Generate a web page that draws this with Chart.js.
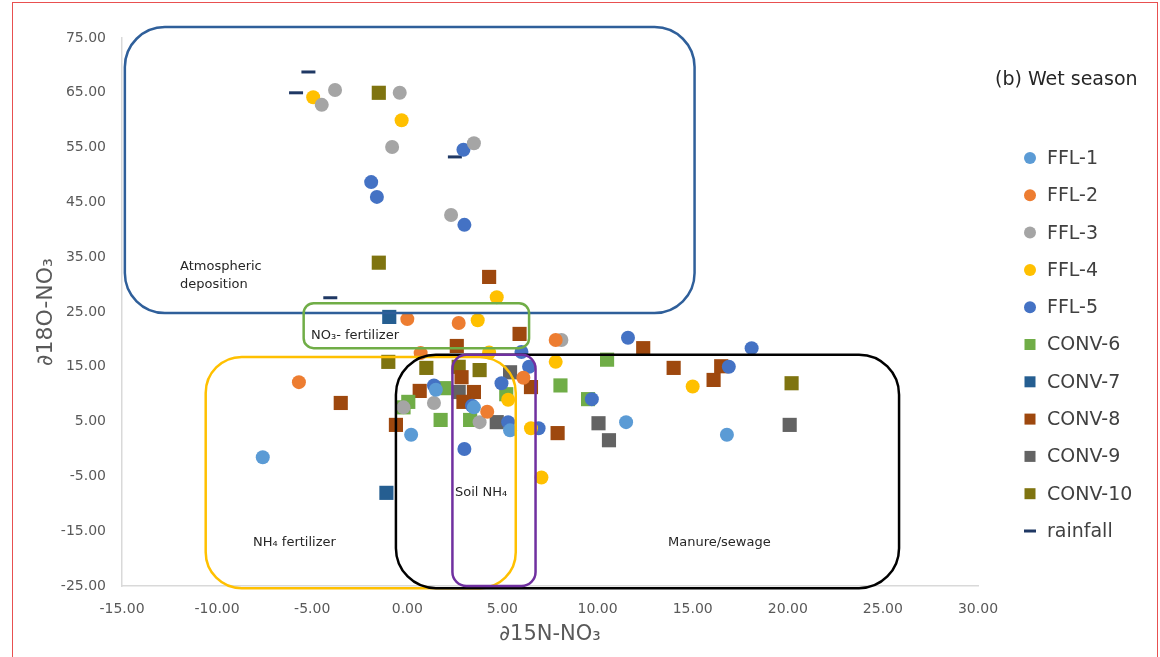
<!DOCTYPE html>
<html>
<head>
<meta charset="utf-8">
<script src="https://cdn.jsdelivr.net/npm/chart.js@4.4.1/dist/chart.umd.min.js"></script>
<style>
  html, body { margin: 0; padding: 0; background: #fff; }
  #wrap { position: relative; width: 1160px; height: 657px; overflow: hidden; }
  #frame { position: absolute; left: 12px; top: 2px; width: 1144px; height: 700px; border: 1px solid #e85050; border-bottom: none; }
  canvas { position: absolute; left: 0; top: 0; }
</style>
</head>
<body>
<div id="wrap">
  <div id="frame"></div>
  <canvas id="chart" width="1160" height="657"></canvas>
</div>
<script>
// d15N (x) / d18O (y) pairs per site
const ffl1 = [[-7.6, -1.5], [0.2, 2.6], [11.5, 4.9], [16.8, 2.6], [3.5, 7.6], [5.4, 3.4], [1.5, 10.8]];
const ffl2 = [[-5.7, 12.2], [0.0, 23.7], [2.7, 23.0], [7.8, 19.9], [4.2, 6.8], [6.1, 13.0], [0.7, 17.5]];
const ffl3 = [[-4.5, 62.8], [-3.8, 65.5], [-0.4, 65.0], [-0.8, 55.1], [3.5, 55.8], [2.3, 42.7],
              [8.1, 19.9], [1.4, 8.4], [-0.2, 7.6], [3.8, 4.9]];
const ffl4 = [[-4.95, 64.2], [-0.3, 60.0], [4.7, 27.7], [3.7, 23.5], [7.8, 15.9], [15.0, 11.4],
              [7.05, -5.2], [6.5, 3.8], [5.3, 9.0], [4.3, 17.6]];
const ffl5 = [[-1.9, 48.7], [-1.6, 46.0], [2.95, 54.6], [3.0, 40.9], [6.0, 17.7], [11.6, 20.3],
              [18.1, 18.4], [16.9, 15.0], [9.7, 9.1], [1.4, 11.6], [3.0, 0.0], [4.95, 12.0],
              [6.4, 15.0], [3.4, 7.9], [5.3, 4.9], [6.9, 3.8]];
const conv6 = [[0.05, 8.6], [1.95, 11.1], [1.75, 5.3], [3.3, 5.3], [5.2, 10.0], [8.05, 11.6],
               [9.5, 9.1], [10.5, 16.3], [-0.2, 7.6]];
const conv7 = [[-0.95, 24.1], [-1.1, -8.0]];
const conv8 = [[-3.5, 8.4], [-0.6, 4.4], [4.3, 31.4], [5.9, 21.0], [2.6, 18.8], [12.4, 18.4],
               [14.0, 14.8], [16.1, 12.6], [16.5, 15.1], [7.9, 2.9], [0.65, 10.6], [2.85, 13.1],
               [3.5, 10.4], [2.95, 8.6], [6.5, 11.3]];
const conv9 = [[2.7, 10.4], [5.4, 14.0], [4.7, 4.9], [10.05, 4.7], [10.6, 1.6], [20.1, 4.4]];
const conv10 = [[-1.5, 65.0], [-1.5, 34.0], [-1.0, 15.9], [1.0, 14.8], [2.7, 15.0], [3.8, 14.4], [20.2, 12.0]];
const rainfall = [[-5.2, 68.8], [-5.85, 65.0], [2.5, 53.3], [-4.05, 27.6]];

const xTicks = [-15, -10, -5, 0, 5, 10, 15, 20, 25, 30];
const yTicks = [-25, -15, -5, 5, 15, 25, 35, 45, 55, 65, 75];

// source boxes: [x1, x2, y1, y2, radius px, colour]
const boxes = [
  [-14.85, 15.1, 77.0, 24.8, 40, '#2f5f9a'],
  [-5.45, 6.4, 26.6, 18.4, 10, '#70ad47'],
  [-10.6, 5.7, 16.8, -25.4, 36, '#ffc000'],
  [-0.6, 25.85, 17.2, -25.4, 40, '#000000'],
  [2.37, 6.74, 17.2, -25.0, 14, '#7030a0']
];
const boxLabels = [
  ['Atmospheric', 180, 267], ['deposition', 180, 285],
  ['NO\u2083- fertilizer', 311, 336],
  ['NH\u2084 fertilizer', 253, 543],
  ['Soil NH\u2084', 455, 493],
  ['Manure/sewage', 668, 543]
];

const series = [
  ['FFL-1', ffl1, '#5b9bd5', 'circle'],
  ['FFL-2', ffl2, '#ed7d31', 'circle'],
  ['FFL-3', ffl3, '#a5a5a5', 'circle'],
  ['FFL-4', ffl4, '#ffc000', 'circle'],
  ['FFL-5', ffl5, '#4472c4', 'circle'],
  ['CONV-6', conv6, '#70ad47', 'rect'],
  ['CONV-7', conv7, '#255e91', 'rect'],
  ['CONV-8', conv8, '#9e480e', 'rect'],
  ['CONV-9', conv9, '#636363', 'rect'],
  ['CONV-10', conv10, '#7f7410', 'rect'],
  ['rainfall', rainfall, '#1f3864', 'line']
];

const datasets = series.map(([name, pts, col, shape]) => ({
  label: name,
  data: pts.map(p => ({ x: p[0], y: p[1] })),
  backgroundColor: col,
  borderColor: col,
  pointStyle: shape,
  pointRadius: shape === 'rect' ? 10 : 7,
  pointHoverRadius: shape === 'rect' ? 10 : 7,
  borderWidth: shape === 'line' ? 3 : 0
}));

function roundRect(ctx, x, y, w, h, r) {
  ctx.beginPath();
  ctx.moveTo(x + r, y);
  ctx.arcTo(x + w, y, x + w, y + h, r);
  ctx.arcTo(x + w, y + h, x, y + h, r);
  ctx.arcTo(x, y + h, x, y, r);
  ctx.arcTo(x, y, x + w, y, r);
  ctx.closePath();
}

const extras = {
  id: 'extras',
  afterDatasetsDraw(chart) {
    const ctx = chart.ctx, xs = chart.scales.x, ys = chart.scales.y;
    ctx.save();
    boxes.forEach(b => {
      const x1 = xs.getPixelForValue(b[0]), x2 = xs.getPixelForValue(b[1]);
      const y1 = ys.getPixelForValue(b[2]), y2 = ys.getPixelForValue(b[3]);
      ctx.strokeStyle = b[5];
      ctx.lineWidth = 2.5;
      roundRect(ctx, x1, y1, x2 - x1, y2 - y1, b[4]);
      ctx.stroke();
    });
    ctx.fillStyle = '#262626';
    ctx.font = '13px "DejaVu Sans"';
    ctx.textBaseline = 'middle';
    ctx.textAlign = 'left';
    boxLabels.forEach(l => ctx.fillText(l[0], l[1], l[2]));

    // title
    ctx.font = '19px "DejaVu Sans"';
    ctx.fillStyle = '#262626';
    ctx.fillText('(b) Wet season', 995, 80);

    // legend
    chart.data.datasets.forEach((ds, i) => {
      const y = 158 + i * 37.3;
      ctx.fillStyle = ds.backgroundColor;
      if (ds.pointStyle === 'circle') {
        ctx.beginPath(); ctx.arc(1030, y, 6, 0, Math.PI * 2); ctx.fill();
      } else if (ds.pointStyle === 'rect') {
        ctx.fillRect(1024.5, y - 5.5, 11, 11);
      } else {
        ctx.fillRect(1024, y - 1.5, 12, 3);
      }
      ctx.fillStyle = '#404040';
      ctx.fillText(ds.label, 1047, y + 1);
    });
    ctx.restore();
  }
};

new Chart(document.getElementById('chart'), {
  type: 'scatter',
  data: { datasets: datasets },
  options: {
    responsive: false,
    animation: false,
    layout: { padding: { top: 38, right: 182, left: 0, bottom: 0 } },
    plugins: { legend: { display: false }, tooltip: { enabled: false } },
    scales: {
      x: {
        min: -15, max: 30,
        afterBuildTicks(s) { s.ticks = xTicks.map(v => ({ value: v })); },
        afterFit(s) { s.height = 71; },
        grid: { display: false, drawTicks: false },
        border: { color: '#d9d9d9', width: 1.5 },
        ticks: {
          padding: 15, color: '#595959', font: { family: 'DejaVu Sans', size: 14 },
          callback: v => v.toFixed(2), maxRotation: 0, autoSkip: false
        },
        title: {
          display: true, text: '\u220215N-NO\u2083', color: '#595959',
          font: { family: 'DejaVu Sans', size: 21 }, padding: { top: 0, bottom: 10 }
        }
      },
      y: {
        min: -25, max: 75,
        afterBuildTicks(s) { s.ticks = yTicks.map(v => ({ value: v })); },
        afterFit(s) { s.width = 122; },
        grid: { display: false, drawTicks: false },
        border: { color: '#d9d9d9', width: 1.5 },
        ticks: {
          padding: 16, color: '#595959', font: { family: 'DejaVu Sans', size: 14 },
          callback: v => v.toFixed(2), autoSkip: false
        },
        title: {
          display: true, text: '\u220218O-NO\u2083', color: '#595959',
          font: { family: 'DejaVu Sans', size: 22 }, padding: { top: 33, bottom: 0 }
        }
      }
    }
  },
  plugins: [extras]
});
</script>
</body>
</html>
